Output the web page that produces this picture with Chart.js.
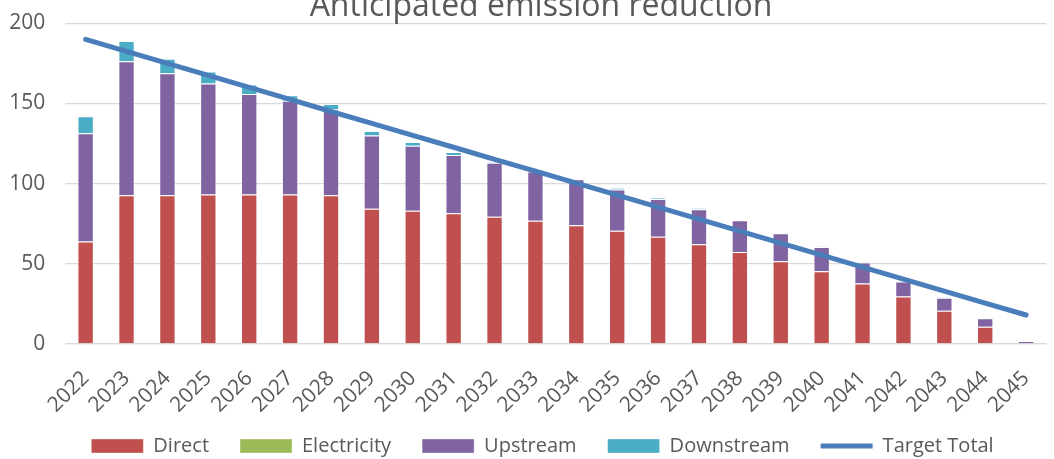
<!DOCTYPE html>
<html>
<head>
<meta charset="utf-8">
<script src="https://cdn.jsdelivr.net/npm/chart.js@4.4.0/dist/chart.umd.min.js"></script>
<style>
  html, body { margin: 0; padding: 0; background: #fff; overflow: hidden; width: 1054px; height: 459px; }
  #wrap { position: absolute; left: 0; top: -11px; width: 1066px; height: 488px; }
</style>
</head>
<body>
<div id="wrap"><canvas id="c"></canvas></div>
<script>
const years = ['2022','2023','2024','2025','2026','2027','2028','2029','2030','2031','2032','2033',
               '2034','2035','2036','2037','2038','2039','2040','2041','2042','2043','2044','2045'];
const direct      = [64.0, 92.7, 92.7, 93.3, 93.3, 93.3, 92.7, 84.4, 83.1, 81.5, 79.4, 76.9,
                     74.0, 70.7, 66.9, 62.2, 57.4, 51.6, 45.3, 37.8, 29.7, 20.8, 10.8, 0];
const electricity = [0, 0, 0, 0, 0, 0, 0, 0, 0, 0, 0, 0, 0, 0, 0, 0, 0, 0, 0, 0, 0, 0, 0, 0];
const upstream    = [67.4, 83.7, 76.1, 69.2, 62.6, 58.4, 53.6, 45.6, 40.5, 36.3, 33.6, 30.6,
                     28.7, 25.7, 23.5, 21.8, 19.7, 17.4, 15.2, 13.1, 9.3, 8.1, 5.3, 1.9];
const downstream  = [10.7, 12.5, 9.1, 7.5, 6.0, 3.5, 3.3, 2.8, 2.3, 1.9, 0.4, 1.0,
                     0.5, 0.9, 0.6, 0.6, 0.3, 0.3, 0.3, 0.2, 0.2, 0.1, 0.1, 0];
const targetTotal = [190, 182.5, 175, 167.5, 160, 152.5, 145, 137.6, 130.1, 122.7, 115.2, 107.8,
                     100.3, 92.8, 85.3, 77.9, 70.4, 62.9, 55.4, 48, 40.5, 33, 25.5, 18.1];
const yTicks = [0, 50, 100, 150, 200];

const FONT = "'Open Sans', 'DejaVu Sans', sans-serif";
const TXT = '#595959';
const GRID = '#D9D9D9';

function barSet(label, data, color) {
  return {
    type: 'bar', label, data, backgroundColor: color,
    borderColor: 'rgba(255,255,255,0.35)', borderWidth: 1,
    stack: 'bars', order: 1,
    categoryPercentage: 1.0, barPercentage: 0.4,
    pointStyle: 'rect'
  };
}

// nudge legend and title to match the reference placement
const boxShift = {
  id: 'boxShift',
  afterLayout(chart) {
    const lg = chart.legend;
    if (lg) {
      lg.left += 11.5; lg.right += 11.5;
      lg.top -= 11; lg.bottom -= 11;
    }
    const tb = chart.titleBlock;
    if (tb) { tb.left += 10; tb.right += 10; }
  }
};

new Chart(document.getElementById('c'), {
  data: {
    labels: years,
    datasets: [
      barSet('Direct', direct, '#C0504D'),
      barSet('Electricity', electricity, '#9BBB59'),
      barSet('Upstream', upstream, '#8064A2'),
      barSet('Downstream', downstream, '#4BACC6'),
      {
        type: 'line', label: 'Target Total', data: targetTotal,
        borderColor: '#4A7EBB', backgroundColor: '#4A7EBB',
        borderWidth: 5, borderCapStyle: 'round', pointRadius: 0, pointHoverRadius: 0,
        pointStyle: 'line', stack: 'line', order: 0, tension: 0, fill: false
      }
    ]
  },
  plugins: [boxShift],
  options: {
    responsive: true,
    maintainAspectRatio: false,
    animation: false,
    layout: { padding: { left: 0, right: 4, top: 0, bottom: 0 } },
    plugins: {
      title: {
        display: true,
        text: 'Anticipated emission reduction',
        color: TXT,
        font: { family: FONT, size: 32, weight: 'normal', lineHeight: 1.0 },
        padding: { top: 1.9, bottom: 0.4 }
      },
      legend: {
        position: 'bottom',
        labels: {
          usePointStyle: true,
          pointStyleWidth: 52,
          boxWidth: 52,
          boxHeight: 14,
          padding: 31,
          color: TXT,
          font: { family: FONT, size: 20 },
          sort: (a, b) => a.datasetIndex - b.datasetIndex
        }
      },
      tooltip: { enabled: false }
    },
    scales: {
      x: {
        stacked: true,
        afterFit: (s) => { s.height = 72; },
        grid: { display: false, drawTicks: false },
        border: { display: true, color: GRID, width: 1.3 },
        ticks: {
          color: TXT, font: { family: FONT, size: 21 },
          minRotation: 45, maxRotation: 45, autoSkip: false, padding: 22
        }
      },
      y: {
        stacked: true,
        min: 0, max: 200,
        afterBuildTicks: (s) => { s.ticks = yTicks.map(v => ({ value: v })); },
        afterFit: (s) => { s.width = 65.2; },
        grid: { color: GRID, lineWidth: 1.3, drawTicks: false },
        border: { display: false },
        ticks: { color: TXT, font: { family: FONT, size: 21 }, padding: 20 }
      }
    }
  }
});
</script>
</body>
</html>
